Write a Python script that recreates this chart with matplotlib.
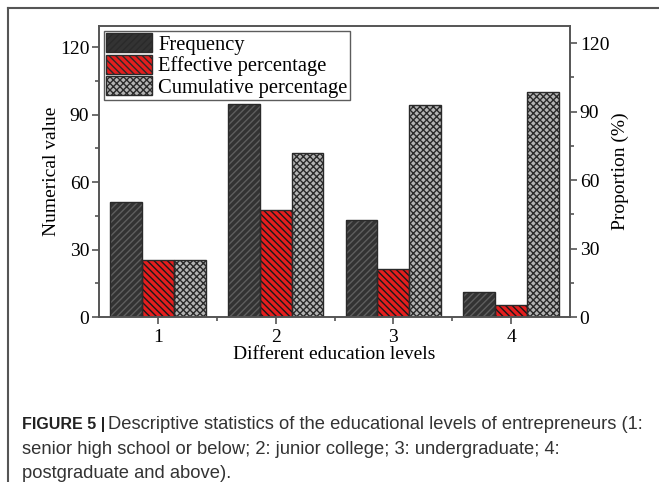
import matplotlib
matplotlib.use("Agg")
import matplotlib.pyplot as plt
import numpy as np
from matplotlib.patches import Patch
from matplotlib.lines import Line2D

categories = ["1", "2", "3", "4"]
frequency = [51, 95, 43, 11]
effective_pct = [25.5, 47.5, 21.5, 5.5]
cumulative_pct = [25.5, 73.0, 94.5, 100.0]
series_names = ["Frequency", "Effective percentage", "Cumulative percentage"]
left_ticks = [0, 30, 60, 90, 120]
right_ticks = [0, 30, 60, 90, 120]

plt.rcParams['font.family'] = ['Liberation Serif', 'DejaVu Serif']
plt.rcParams['hatch.linewidth'] = 1.0

W, H = 659, 482
fig = plt.figure(figsize=(W / 100, H / 100), dpi=100)

# outer frame (top + left line)
fig.add_artist(Line2D([8 / W, 8 / W], [0, 1 - 8 / H], transform=fig.transFigure, color='#555555', lw=1.5))
fig.add_artist(Line2D([8 / W, 1], [1 - 8 / H, 1 - 8 / H], transform=fig.transFigure, color='#555555', lw=1.5))

ax_l, ax_r, ax_t, ax_b = 99, 570, 26, 317
ax = fig.add_axes([ax_l / W, 1 - ax_b / H, (ax_r - ax_l) / W, (ax_b - ax_t) / H])

x = np.arange(1, len(categories) + 1)
w = 0.27
styles = [
    dict(face='#333333', hatchc='#5e5e5e', hatch='/////'),
    dict(face='#e41e1e', hatchc='#1a1a1a', hatch='\\\\\\\\\\'),
    dict(face='#b4b4b4', hatchc='#2a2a2a', hatch='xxxxx'),
]
data = [frequency, effective_pct, cumulative_pct]
for i, (vals, st) in enumerate(zip(data, styles)):
    pos = x + (i - 1) * w
    ax.bar(pos, vals, width=w, color=st['face'], edgecolor=st['hatchc'], hatch=st['hatch'], linewidth=0, zorder=2)
    ax.bar(pos, vals, width=w, facecolor='none', edgecolor='#2a2a2a', linewidth=1.0, zorder=3)

ax.set_xlim(0.5, 4.5)
ax.set_ylim(0, 129.5)
ax.set_xticks(x)
ax.set_xticklabels(categories)
ax.set_xticks([1.5, 2.5, 3.5], minor=True)
ax.set_yticks(left_ticks)
ax.set_yticks([15, 45, 75, 105], minor=True)
for sp in ax.spines.values():
    sp.set_color('#555555')
    sp.set_linewidth(1.2)
ax.tick_params(axis='both', which='major', labelsize=14, length=5, width=1.2, color='#555555', direction='out')
ax.tick_params(axis='both', which='minor', length=3, width=1.2, color='#555555', direction='out')
ax.tick_params(axis='y', pad=2)
ax.set_ylabel("Numerical value", fontsize=14)
ax.yaxis.set_label_coords((60 - ax_l) / (ax_r - ax_l), 0.5)
ax.set_xlabel("Different education levels", fontsize=14, labelpad=0)

ax2 = ax.twinx()
ax2.set_ylim(0, 127.5)
ax2.set_yticks(right_ticks)
ax2.set_yticks([15, 45, 75, 105], minor=True)
for sp in ax2.spines.values():
    sp.set_color('#555555')
    sp.set_linewidth(1.2)
ax2.tick_params(axis='y', which='major', labelsize=14, length=5, width=1.2, color='#555555', pad=2)
ax2.tick_params(axis='y', which='minor', length=3, width=1.2, color='#555555')
ax2.set_ylabel("Proportion (%)", fontsize=14)
ax2.yaxis.set_label_coords((612 - ax_l) / (ax_r - ax_l), 0.5)

handles = [Patch(facecolor=st['face'], edgecolor=st['hatchc'], hatch=st['hatch'], linewidth=0) for st in styles]
leg = ax.legend(handles, series_names, loc='upper left', fontsize=14.8, frameon=True, fancybox=False,
                edgecolor='#333333', borderpad=0.12, labelspacing=0.0, handlelength=2.25, handleheight=1.05,
                handletextpad=0.3, borderaxespad=0.22)
leg.get_frame().set_linewidth(1.0)
for p in leg.get_patches():
    p.set_edgecolor('#2a2a2a')
    p.set_linewidth(1.0)

# caption
cap_font = ['Liberation Sans', 'DejaVu Sans']
fs = 13.2
t0 = fig.text(22 / W, 1 - 429 / H, "FIGURE 5 |", fontsize=11.5, fontweight='bold', family=cap_font,
              va='baseline', ha='left', color='#222222')
fig.canvas.draw()
bb = t0.get_window_extent(renderer=fig.canvas.get_renderer())
x_rest = (bb.x1 + 3) / W
fig.text(x_rest, 1 - 429 / H, "Descriptive statistics of the educational levels of entrepreneurs (1:", fontsize=fs,
         family=cap_font, va='baseline', ha='left', color='#333333')
fig.text(22 / W, 1 - 454 / H, "senior high school or below; 2: junior college; 3: undergraduate; 4:", fontsize=fs,
         family=cap_font, va='baseline', ha='left', color='#333333')
fig.text(22 / W, 1 - 478.5 / H, "postgraduate and above).", fontsize=fs,
         family=cap_font, va='baseline', ha='left', color='#333333')

fig.savefig("out.png", dpi=100)
